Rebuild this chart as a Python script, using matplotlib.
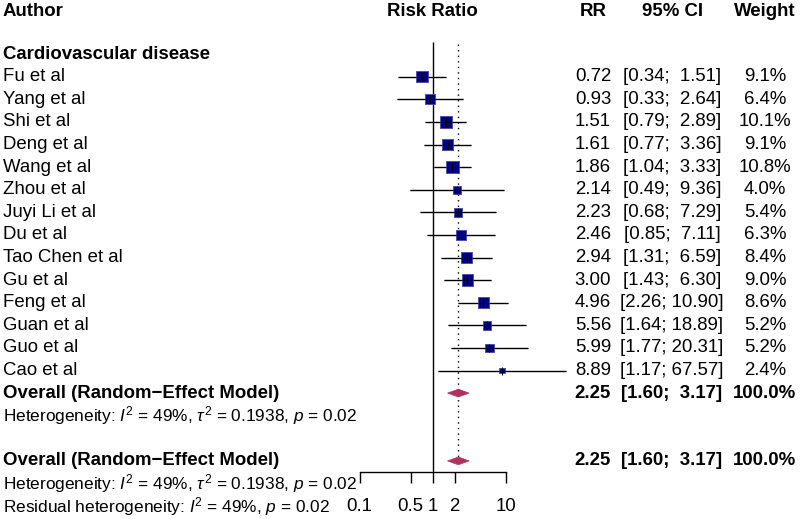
import matplotlib
matplotlib.use("Agg")
import matplotlib.pyplot as plt
import matplotlib.transforms as mtransforms
import numpy as np

plt.rcParams["font.family"] = ["Liberation Sans", "DejaVu Sans"]
plt.rcParams["mathtext.fontset"] = "custom"
plt.rcParams["mathtext.rm"] = "Liberation Sans"
plt.rcParams["mathtext.it"] = "Liberation Sans:italic"
plt.rcParams["mathtext.bf"] = "Liberation Sans:bold"

authors = ["Fu et al", "Yang et al", "Shi et al", "Deng et al", "Wang et al",
           "Zhou et al", "Juyi Li et al", "Du et al", "Tao Chen et al", "Gu et al",
           "Feng et al", "Guan et al", "Guo et al", "Cao et al"]
rr = [0.72, 0.93, 1.51, 1.61, 1.86, 2.14, 2.23, 2.46, 2.94, 3.00, 4.96, 5.56, 5.99, 8.89]
ci_lo = [0.34, 0.33, 0.79, 0.77, 1.04, 0.49, 0.68, 0.85, 1.31, 1.43, 2.26, 1.64, 1.77, 1.17]
ci_hi = [1.51, 2.64, 2.89, 3.36, 3.33, 9.36, 7.29, 7.11, 6.59, 6.30, 10.90, 18.89, 20.31, 67.57]
weights = [9.1, 6.4, 10.1, 9.1, 10.8, 4.0, 5.4, 6.3, 8.4, 9.0, 8.6, 5.2, 5.2, 2.4]
pooled_rr, pooled_lo, pooled_hi = 2.25, 1.60, 3.17
xticks = [0.1, 0.5, 1, 2, 10]
het_text = r"Heterogeneity: $I^2$ = 49%, $\tau^2$ = 0.1938, $p$ = 0.02"
resid_text = r"Residual heterogeneity: $I^2$ = 49%, $p$ = 0.02"

W, H = 800, 519
fig = plt.figure(figsize=(W / 100, H / 100), dpi=100)

# forest panel: log axis, 73 px per decade, x=1 at 432.6 px
px_one, px_dec = 432.6, 73.0
xlo, xhi = 0.05, 100
left = px_one + np.log10(xlo) * px_dec
width = (np.log10(xhi) - np.log10(xlo)) * px_dec
ax = fig.add_axes([left / W, 0, width / W, 1])
ax.set_xscale("log")
ax.set_xlim(xlo, xhi)
row0, rowh = 76.7, 22.6
ax.set_ylim((H - row0) / rowh, -row0 / rowh)
ax.patch.set_alpha(0)

for s in ["top", "left", "right"]:
    ax.spines[s].set_visible(False)
axis_y = 17.5
ax.spines["bottom"].set_position(("data", axis_y))
ax.spines["bottom"].set_bounds(xticks[0], xticks[-1])
ax.spines["bottom"].set_linewidth(1.0)
ax.set_yticks([])
ax.set_xticks(xticks)
ax.xaxis.set_minor_locator(matplotlib.ticker.NullLocator())
ax.set_xticklabels([])
ax.tick_params(axis="x", direction="out", length=8, width=1.0)

fs = 13.4
fs_het = 12.4
rows = np.arange(len(authors))

# reference lines
ax.vlines(1, -1.52, axis_y, color="black", lw=1.0)
ax.vlines(pooled_rr, -1.45, 17.1, color="black", lw=1.0, linestyles=(0, (1, 3)))

# study CIs and squares
ax.hlines(rows, ci_lo, ci_hi, color="black", lw=1.0, zorder=2)
sides = 3.8 * np.sqrt(weights) * 0.72
ax.scatter(rr, rows, s=sides ** 2, marker="s", color="#000080",
           edgecolors="#4848b0", linewidths=0.6, zorder=3)
ax.hlines(rows, ci_lo, ci_hi, color="black", lw=0.7, zorder=4,
          clip_on=False, alpha=0.6)
ax.scatter(rr, rows, s=30, marker="|", color="black", linewidths=0.8, zorder=4)

# pooled diamonds
for r in [14, 17]:
    ax.fill([pooled_lo, pooled_rr, pooled_hi, pooled_rr],
            [r, r - 0.17, r, r + 0.17], color="#B03060", lw=0.5, zorder=3)

# tick labels
for t in xticks:
    ax.text(t, 19, f"{t:g}", ha="center", va="center", fontsize=fs)

# text columns
tr = mtransforms.blended_transform_factory(fig.transFigure, ax.transData)
x_author = 3 / W
x_rr, x_ci, x_w = 593 / W, 672 / W, 765 / W
hy = -2.9

ax.text(x_author, hy, "Author", transform=tr, fontsize=fs, fontweight="bold", va="center")
ax.text(1, hy, "Risk Ratio", fontsize=fs, fontweight="bold", ha="center", va="center")
ax.text(x_rr, hy, "RR", transform=tr, fontsize=fs, fontweight="bold", ha="center", va="center")
ax.text(x_ci, hy, "95% CI", transform=tr, fontsize=fs, fontweight="bold", ha="center", va="center")
ax.text(x_w, hy, "Weight", transform=tr, fontsize=fs, fontweight="bold", ha="center", va="center")
ax.text(x_author, -1, "Cardiovascular disease", transform=tr, fontsize=fs,
        fontweight="bold", va="center")

for i, name in enumerate(authors):
    ax.text(x_author, i, name, transform=tr, fontsize=fs, va="center")
    ax.text(x_rr, i, f"{rr[i]:.2f}", transform=tr, fontsize=fs, ha="center", va="center")
    ax.text(x_ci, i, f"[{ci_lo[i]:.2f}; {ci_hi[i]:5.2f}]", transform=tr, fontsize=fs,
            ha="center", va="center")
    ax.text(x_w, i, f"{weights[i]:.1f}%", transform=tr, fontsize=fs, ha="center", va="center")

for r in [14, 17]:
    ax.text(x_author, r, "Overall (Random\u2212Effect Model)", transform=tr, fontsize=fs,
            fontweight="bold", va="center")
    ax.text(x_rr, r, f"{pooled_rr:.2f}", transform=tr, fontsize=fs, fontweight="bold",
            ha="center", va="center")
    ax.text(x_ci, r, f"[{pooled_lo:.2f}; {pooled_hi:5.2f}]", transform=tr, fontsize=fs,
            fontweight="bold", ha="center", va="center")
    ax.text(x_w, r, "100.0%", transform=tr, fontsize=fs, fontweight="bold",
            ha="center", va="center")
    ax.text(x_author, r + 1, het_text, transform=tr, fontsize=fs_het, va="center")

ax.text(x_author, 19, resid_text, transform=tr, fontsize=fs_het, va="center")

fig.savefig("out.png", dpi=100)
